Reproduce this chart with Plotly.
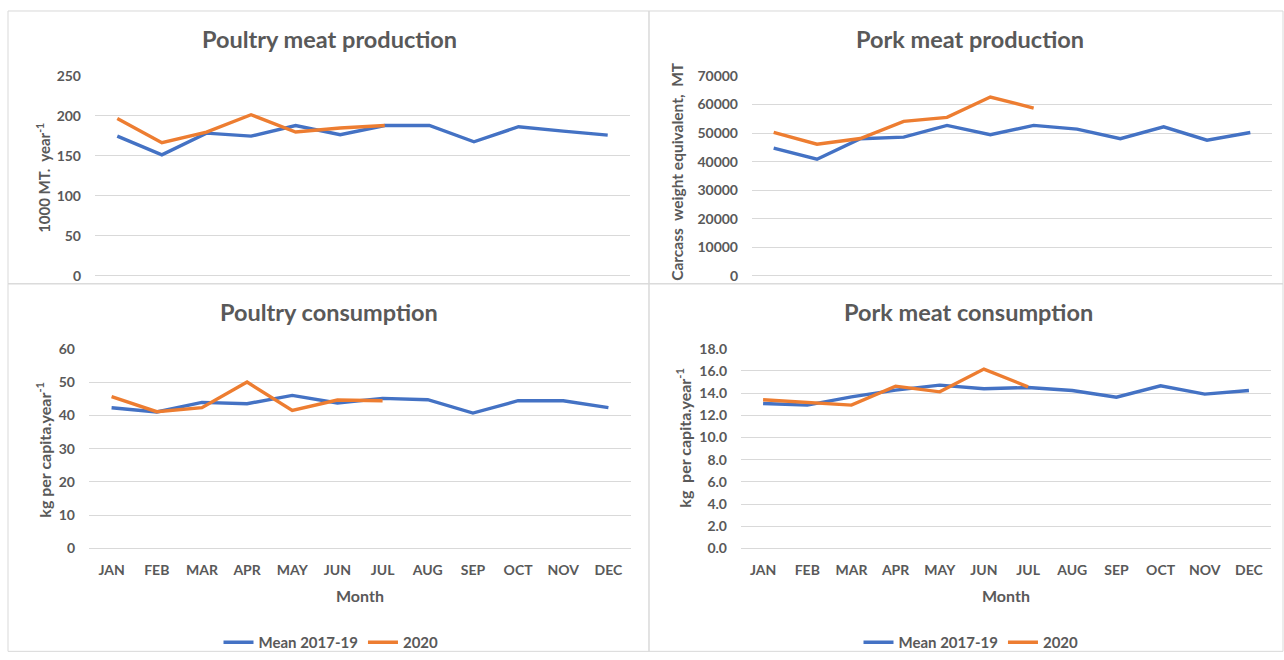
import plotly.graph_objects as go

months = ["JAN", "FEB", "MAR", "APR", "MAY", "JUN", "JUL", "AUG", "SEP", "OCT", "NOV", "DEC"]
months_2020 = months[:7]

poultry_prod_mean = [174.7, 151.3, 178.5, 174.7, 188.0, 176.4, 188.0, 188.0, 167.6, 186.5, 181.0, 176.0]
poultry_prod_2020 = [196.9, 166.4, 179.8, 201.5, 179.8, 184.8, 188.0]

pork_prod_mean = [44700, 40850, 48000, 48580, 52670, 49400, 52670, 51390, 48000, 52200, 47500, 50200]
pork_prod_2020 = [50200, 46100, 48100, 54080, 55480, 62620, 58760]

poultry_cons_mean = [42.3, 41.0, 43.9, 43.5, 46.0, 43.7, 45.1, 44.7, 40.7, 44.4, 44.4, 42.3]
poultry_cons_2020 = [45.6, 41.1, 42.3, 50.0, 41.5, 44.6, 44.4]

pork_cons_mean = [13.07, 12.92, 13.67, 14.27, 14.72, 14.39, 14.51, 14.24, 13.64, 14.66, 13.91, 14.24]
pork_cons_2020 = [13.40, 13.16, 12.92, 14.63, 14.12, 16.17, 14.57]

BLUE = "#4472C4"
ORANGE = "#ED7D31"
GREY = "#595959"
GRID = "#D9D9D9"
FONT = "Lato, Open Sans, sans-serif"
W, H = 1284, 660
# observed vertical mapping of the photographed page: shown_y = 0.975 * fig_y + 8
VS, VOFF = 0.975, 8


def px(x):
    return x / W


def py(y):
    fy = (y - VOFF) / VS
    return 1 - fy / H


fig = go.Figure()

panels = [
    ("x", "y", poultry_prod_mean, poultry_prod_2020, None),
    ("x2", "y2", pork_prod_mean, pork_prod_2020, None),
    ("x3", "y3", poultry_cons_mean, poultry_cons_2020, "legend"),
    ("x4", "y4", pork_cons_mean, pork_cons_2020, "legend2"),
]

for xa, ya, mean, y2020, leg in panels:
    show = leg is not None
    fig.add_trace(go.Scatter(x=months, y=mean, mode="lines", name="Mean 2017-19",
                             line=dict(color=BLUE, width=3.4), xaxis=xa, yaxis=ya,
                             showlegend=show, legend=leg if leg else "legend"))
    fig.add_trace(go.Scatter(x=months_2020, y=y2020, mode="lines", name="2020",
                             line=dict(color=ORANGE, width=3.4), xaxis=xa, yaxis=ya,
                             showlegend=show, legend=leg if leg else "legend"))

tickfont = dict(family=FONT, size=14, color=GREY, weight="bold")


def xaxis_cfg(x0, x1, labels, anchor):
    return dict(domain=[px(x0), px(x1)], type="category", categoryorder="array",
                categoryarray=months, range=[-0.5, 11.5], showgrid=False,
                showticklabels=labels, ticks="", tickfont=tickfont,
                ticklabelstandoff=11, showline=False, zeroline=False, anchor=anchor,
                fixedrange=True)


def yaxis_cfg(yt, yb, rng, dtick, fmt, anchor):
    return dict(domain=[py(yb), py(yt)], range=rng, dtick=dtick, tickformat=fmt,
                showgrid=True, gridcolor=GRID, gridwidth=1, zeroline=True,
                zerolinecolor=GRID, zerolinewidth=1, showline=False, ticks="",
                tickfont=tickfont, ticklabelstandoff=13, anchor=anchor, fixedrange=True)


legfont = dict(family=FONT, size=15, color=GREY, weight="bold")

fig.update_layout(
    width=W, height=H,
    margin=dict(l=0, r=0, t=0, b=0),
    paper_bgcolor="white", plot_bgcolor="white",
    font=dict(family=FONT, color=GREY),
    xaxis=xaxis_cfg(95, 630, False, "y"),
    xaxis2=xaxis_cfg(752, 1272, False, "y2"),
    xaxis3=xaxis_cfg(89, 631, True, "y3"),
    xaxis4=xaxis_cfg(741, 1271, True, "y4"),
    yaxis=yaxis_cfg(75, 275, [0, 250], 50, "d", "x"),
    yaxis2=yaxis_cfg(75, 275, [0, 70000], 10000, "d", "x2"),
    yaxis3=yaxis_cfg(348, 548, [0, 60], 10, "d", "x3"),
    yaxis4=yaxis_cfg(348, 548, [0, 18], 2, ".1f", "x4"),
    legend=dict(orientation="h", x=px(331), y=py(642), xanchor="center", yanchor="middle",
                font=legfont, bgcolor="rgba(0,0,0,0)", itemwidth=30),
    legend2=dict(orientation="h", x=px(971), y=py(642), xanchor="center", yanchor="middle",
                 font=legfont, bgcolor="rgba(0,0,0,0)", itemwidth=30),
)

# Panel borders
for (x0, y0, x1, y1) in [(8, 10, 649, 283), (649, 10, 1283, 283),
                         (8, 283, 649, 658), (649, 283, 1283, 658)]:
    fig.add_shape(type="rect", xref="paper", yref="paper",
                  x0=px(x0), x1=px(x1), y0=max(py(y1), 0.001), y1=py(y0),
                  line=dict(color=GRID, width=1), fillcolor="rgba(0,0,0,0)", layer="below")

titles = [("Poultry meat production", 329, 38), ("Pork meat production", 970, 38),
          ("Poultry consumption", 329, 311), ("Pork meat consumption", 969, 311)]
for text, x, y in titles:
    fig.add_annotation(text=f"<b>{text}</b>", x=px(x), y=py(y), xref="paper", yref="paper",
                       xanchor="center", yanchor="middle", showarrow=False,
                       font=dict(family=FONT, size=23.5, color=GREY))

ytitles = [("1000 MT.  year<sup>-1</sup>", 44, 177, 15),
           ("Carcass  weight equivalent,  MT", 677, 171, 15.5),
           ("kg per capita.year<sup>-1</sup>", 44, 449, 16),
           ("kg  per capita.year<sup>-1</sup>", 684, 437, 16)]
for text, x, y, s in ytitles:
    fig.add_annotation(text=f"<b>{text}</b>", x=px(x), y=py(y), xref="paper", yref="paper",
                       xanchor="center", yanchor="middle", showarrow=False, textangle=-90,
                       font=dict(family=FONT, size=s, color=GREY))

for x in [360, 1006]:
    fig.add_annotation(text="<b>Month</b>", x=px(x), y=py(595), xref="paper", yref="paper",
                       xanchor="center", yanchor="middle", showarrow=False,
                       font=dict(family=FONT, size=16, color=GREY))

fig.write_html("out.html")
